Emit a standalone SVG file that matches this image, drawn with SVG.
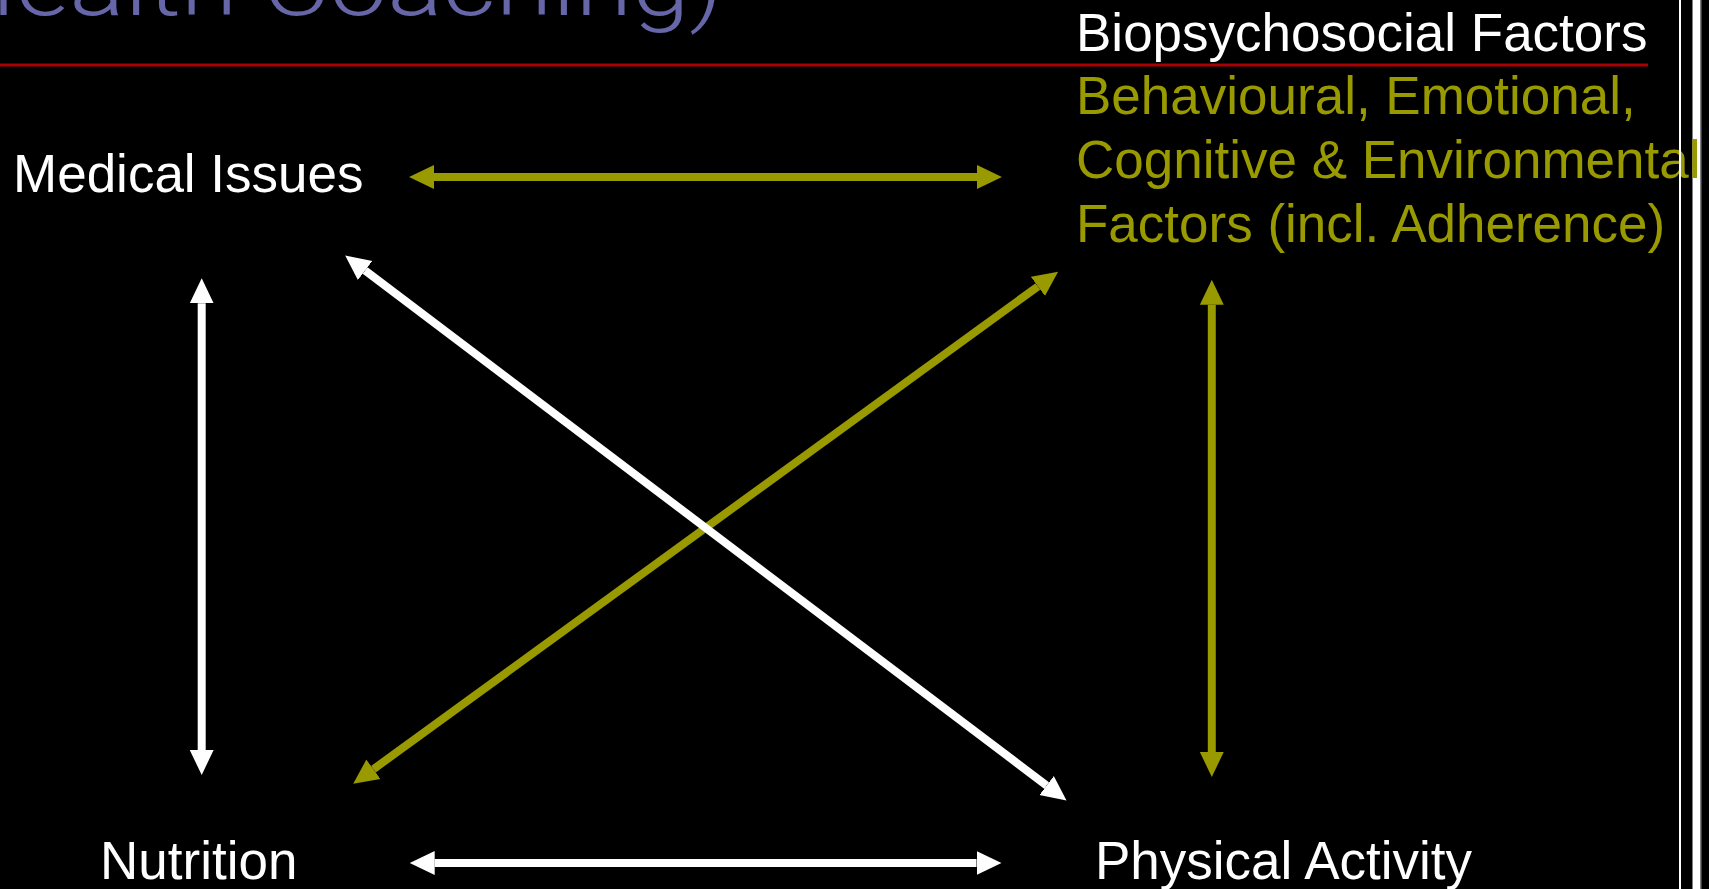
<svg xmlns="http://www.w3.org/2000/svg" width="1709" height="889" viewBox="0 0 1709 889">
<style>
.lbl{font-family:"Liberation Sans",Arial,sans-serif;font-size:53px}
.w{fill:#ffffff}
.o{fill:#999900}
.title{font-family:Roboto,"Open Sans",Lato,"DejaVu Sans",sans-serif;font-weight:300;font-size:85px;fill:#6666A8}
.cw{stroke:#ffffff;stroke-width:8;fill:none}
.co{stroke:#999900;stroke-width:8;fill:none}
</style>
<defs>
<marker id="hw" markerUnits="userSpaceOnUse" markerWidth="26" markerHeight="26" viewBox="0 -12 25 24" refX="0" refY="0" orient="auto-start-reverse"><path d="M0,-11.5 L24,0 L0,11.5 Z" fill="#ffffff"/></marker>
<marker id="ho" markerUnits="userSpaceOnUse" markerWidth="26" markerHeight="26" viewBox="0 -12 25 24" refX="0" refY="0" orient="auto-start-reverse"><path d="M0,-11.5 L24,0 L0,11.5 Z" fill="#999900"/></marker>
</defs>
<rect x="0" y="0" width="1709" height="889" fill="#000000"/>
<rect x="1692.5" y="0" width="8" height="889" fill="#ffffff"/>
<rect x="1700.5" y="0" width="1" height="889" fill="#808080"/>
<text class="title" x="-57" y="15" textLength="780" lengthAdjust="spacingAndGlyphs">Health Coaching)</text>
<rect x="0" y="63.5" width="1648" height="3" fill="#AA0000"/>
<g id="connectors">
<line class="co" x1="434" y1="177" x2="977" y2="177" marker-start="url(#ho)" marker-end="url(#ho)"/>
<line class="co" x1="1211.8" y1="304.7" x2="1211.8" y2="752" marker-start="url(#ho)" marker-end="url(#ho)"/>
<line class="co" x1="1037.9" y1="286.4" x2="373.4" y2="769.2" marker-start="url(#ho)" marker-end="url(#ho)"/>
<line class="cw" x1="201.7" y1="303.3" x2="201.7" y2="750" marker-start="url(#hw)" marker-end="url(#hw)"/>
<line class="cw" x1="434.7" y1="863" x2="976.5" y2="863" marker-start="url(#hw)" marker-end="url(#hw)"/>
<line class="cw" x1="365.1" y1="270.5" x2="1046.6" y2="785.5" marker-start="url(#hw)" marker-end="url(#hw)"/>
</g>
<g id="node-medical"><text class="lbl w" x="13" y="192">Medical Issues</text></g>
<g id="node-biopsychosocial">
<text class="lbl w" x="1076" y="51">Biopsychosocial Factors</text>
<text class="lbl o" x="1076" y="114">Behavioural, Emotional,</text>
<text class="lbl o" x="1076" y="178">Cognitive &amp; Environmental</text>
<text class="lbl o" x="1076" y="242">Factors (incl. Adherence)</text>
</g>
<g id="node-nutrition"><text class="lbl w" x="100" y="879">Nutrition</text></g>
<g id="node-physical"><text class="lbl w" x="1095" y="879">Physical Activity</text></g>
<rect x="1679" y="0" width="2" height="889" fill="#ffffff"/>
</svg>
